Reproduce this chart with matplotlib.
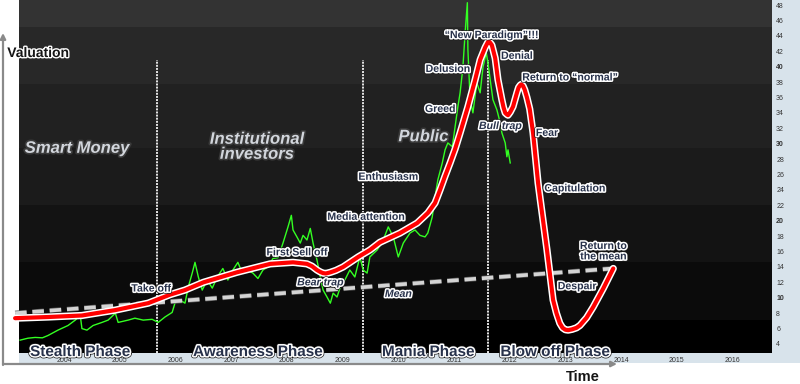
import matplotlib
matplotlib.use("Agg")
import matplotlib.pyplot as plt
import matplotlib.patheffects as pe
from matplotlib.patches import Rectangle

plt.rcParams["font.family"] = ["Liberation Sans", "DejaVu Sans"]

# ---- data (x in years, y in price units on the right-hand axis) -------------
price_x = [2003.21, 2003.35, 2003.48, 2003.61, 2003.71, 2003.89, 2004.07, 2004.2,
           2004.29, 2004.32, 2004.41, 2004.52, 2004.68, 2004.79, 2004.92, 2004.97,
           2005.15, 2005.27, 2005.42, 2005.58, 2005.69, 2005.81, 2005.94, 2005.99,
           2006.08, 2006.17, 2006.23, 2006.3, 2006.35, 2006.41, 2006.48, 2006.57,
           2006.66, 2006.75, 2006.85, 2006.94, 2007.03, 2007.12, 2007.2, 2007.29,
           2007.39, 2007.48, 2007.57, 2007.66, 2007.75, 2007.84, 2007.93, 2008.02,
           2008.08, 2008.11, 2008.18, 2008.24, 2008.29, 2008.36, 2008.42, 2008.47,
           2008.54, 2008.6, 2008.65, 2008.72, 2008.78, 2008.83, 2008.9, 2008.96,
           2009.04, 2009.13, 2009.22, 2009.31, 2009.37, 2009.44, 2009.49, 2009.62,
           2009.73, 2009.82, 2009.91, 2010.0, 2010.09, 2010.21, 2010.3, 2010.39,
           2010.48, 2010.53, 2010.61, 2010.66, 2010.71, 2010.79, 2010.84, 2010.89,
           2010.97, 2011.02, 2011.07, 2011.11, 2011.16, 2011.2, 2011.24, 2011.25,
           2011.29, 2011.34, 2011.41, 2011.47, 2011.52, 2011.58, 2011.61, 2011.65,
           2011.7, 2011.77, 2011.83, 2011.86, 2011.92, 2011.95, 2011.97, 2012.01]
price_y = [4.5, 4.75, 4.85, 4.8, 5.1, 5.8, 6.4, 7.1,
           7.7, 6.0, 5.8, 6.4, 6.8, 7.1, 8.0, 6.8,
           7.1, 7.35, 7.1, 7.2, 6.8, 7.5, 8.1, 9.3,
           9.7, 9.3, 11.4, 13.2, 14.6, 12.7, 11.0, 12.3,
           11.25, 12.7, 13.8, 12.3, 13.6, 14.6, 13.2, 13.6,
           13.2, 12.5, 13.6, 14.0, 15.1, 15.2, 17.1, 19.2,
           20.7, 18.8, 17.9, 17.1, 18.1, 17.5, 19.0, 17.1,
           14.9, 12.7, 11.0, 10.1, 9.3, 10.6, 10.1, 11.4,
           12.3, 13.6, 12.7, 15.3, 13.6, 13.2, 15.3, 16.2,
           17.5, 19.2, 17.9, 15.3, 17.1, 18.4, 18.8, 18.1,
           17.9, 18.4, 20.5, 23.1, 25.3, 27.5, 29.2, 30.1,
           29.6, 32.2, 34.8, 36.6, 39.9, 44.4, 48.3, 42.2,
           35.7, 34.0, 37.9, 36.6, 39.9, 41.8, 40.5, 38.3,
           35.7, 34.4, 32.7, 31.4, 30.1, 28.3, 29.2, 27.5]

cycle_x = [2003.12, 2003.71, 2004.32, 2004.92, 2005.51, 2005.9, 2006.17, 2006.5,
           2007.1, 2007.7, 2008.11, 2008.36, 2008.45, 2008.54, 2008.6, 2008.65,
           2008.7, 2008.78, 2008.88, 2009.01, 2009.28, 2009.49, 2009.67, 2010.03,
           2010.34, 2010.53, 2010.66, 2010.75, 2010.84, 2010.93, 2011.02, 2011.11,
           2011.25, 2011.38, 2011.47, 2011.56, 2011.61, 2011.64, 2011.68, 2011.74,
           2011.79, 2011.86, 2011.89, 2011.92, 2011.95, 2011.97, 2012.01, 2012.06,
           2012.13, 2012.16, 2012.19, 2012.21, 2012.24, 2012.27, 2012.31, 2012.36,
           2012.42, 2012.51, 2012.55, 2012.67, 2012.78, 2012.84, 2012.9, 2012.95,
           2013.0, 2013.05, 2013.12, 2013.2, 2013.26, 2013.38, 2013.5, 2013.68,
           2013.86]
cycle_y = [7.35, 7.5, 7.7, 8.4, 9.3, 10.4, 11.0, 12.0,
           13.3, 14.4, 14.6, 14.4, 14.1, 13.6, 13.35, 13.2,
           13.15, 13.3, 13.55, 14.0, 15.3, 16.2, 17.2, 18.4,
           19.7, 21.0, 22.3, 24.0, 25.8, 27.5, 29.3, 31.4,
           34.8, 38.3, 40.9, 42.5, 43.2, 43.2, 42.8, 41.1,
           38.3, 35.7, 34.7, 34.0, 33.8, 33.7, 34.1, 34.8,
           36.6, 37.3, 37.6, 37.7, 37.5, 37.0, 36.0, 34.5,
           31.4, 24.9, 22.7, 16.2, 9.7, 8.0, 6.7, 6.1,
           5.85, 5.8, 5.9, 6.1, 6.4, 7.4, 8.8, 11.2,
           13.8]

mean_x = [2003.12, 2013.86]
mean_y = [8.0, 13.8]

phase_bounds = [2005.67, 2009.37, 2011.61]
years = list(range(2004, 2017))
right_ticks = list(range(4, 49, 2))

band_edges = [2.83, 7.1, 14.6, 22.0, 29.4, 37.7, 45.1, 48.65]
band_colors = ["#000000", "#0b0b0b", "#131313", "#1b1b1b", "#212121", "#282828", "#333333"]

# (text, x, y, italic)
stage_labels = [
    ("Take off", 2005.56, 11.2, False),
    ("First Sell off", 2008.18, 15.9, False),
    ("Bear trap", 2008.6, 12.0, True),
    ("Media attention", 2009.42, 20.5, False),
    ("Mean", 2010.0, 10.5, True),
    ("Enthusiasm", 2009.82, 25.7, False),
    ("Greed", 2010.75, 34.5, False),
    ("Delusion", 2010.89, 39.7, False),
    ("\u201cNew Paradigm\u201d!!!", 2011.67, 44.1, False),
    ("Denial", 2012.13, 41.4, False),
    ("Bull trap", 2011.83, 32.3, True),
    ("Return to \u201cnormal\u201d", 2013.08, 38.6, False),
    ("Fear", 2012.67, 31.4, False),
    ("Capitulation", 2013.17, 24.2, False),
    ("Despair", 2013.21, 11.5, False),
    ("Return to\nthe mean", 2013.68, 16.05, False),
]
actor_labels = [
    ("Smart Money", 2004.23, 29.4),
    ("Institutional\ninvestors", 2007.46, 29.6),
    ("Public", 2010.45, 30.9),
]
phase_labels = [
    ("Stealth Phase", 2004.29),
    ("Awareness Phase", 2007.48),
    ("Mania Phase", 2010.54),
    ("Blow off Phase", 2012.82),
]

# ---- figure -----------------------------------------------------------------
fig = plt.figure(figsize=(8, 3.84), dpi=100)
W, H = 800, 384
strip = "#d8e3eb"
fig.add_artist(Rectangle((772 / W, 21 / H), 28 / W, 363 / H, transform=fig.transFigure,
                         facecolor=strip, edgecolor="none", zorder=-1))
fig.add_artist(Rectangle((19 / W, 21 / H), 753 / W, 10 / H, transform=fig.transFigure,
                         facecolor=strip, edgecolor="none", zorder=-1))

ax = fig.add_axes([19 / W, 31 / H, 753 / W, 353 / H])
ax.set_xlim(2003.19, 2016.71)
ax.set_ylim(band_edges[0], band_edges[-1])
for lo, hi, c in zip(band_edges[:-1], band_edges[1:], band_colors):
    ax.axhspan(lo, hi, color=c, lw=0, zorder=0)
for s in ax.spines.values():
    s.set_visible(False)

ax.yaxis.tick_right()
ax.set_yticks(right_ticks)
ax.set_yticklabels([str(t) for t in right_ticks])
for t, lab in zip(right_ticks, ax.get_yticklabels()):
    if t % 10 == 0:
        lab.set_fontweight("bold")
ax.tick_params(axis="y", length=0, pad=3, labelsize=5, labelcolor="#333333")
ax.set_xticks(years)
ax.set_xticklabels([str(y) for y in years])
ax.tick_params(axis="x", length=0, pad=3, labelsize=5, labelcolor="#333333")

ax.vlines(phase_bounds, 2.83, 40.9, colors="#e6e6e6", lw=1.4,
          linestyles=(0, (1, 0.6)), zorder=2)

ax.plot(price_x, price_y, color="#33ff22", lw=1.0, zorder=3)

ax.plot(mean_x, mean_y, color="#d4d4d4", lw=2.6, dashes=(3.2, 1.6), zorder=4,
        clip_on=False,
        path_effects=[pe.Stroke(linewidth=3.6, foreground="#555555"), pe.Normal()])

ax.plot(cycle_x, cycle_y, color="white", lw=5.2, zorder=5, clip_on=False,
        solid_capstyle="round", solid_joinstyle="round")
ax.plot(cycle_x, cycle_y, color="#ff0000", lw=3.0, zorder=6, clip_on=False,
        solid_capstyle="round", solid_joinstyle="round")

label_fx = [pe.Stroke(linewidth=3.2, foreground="#1a1a1a"),
            pe.Stroke(linewidth=2.2, foreground="white"), pe.Normal()]
for txt, x, y, it in stage_labels:
    ax.text(x, y, txt, ha="center", va="center", fontsize=7.6, fontweight="bold",
            style="italic" if it else "normal", color="#27314a", zorder=8,
            linespacing=1.05, path_effects=label_fx)

actor_fx = [pe.Stroke(linewidth=2.4, foreground="#3a3a3a"), pe.Normal()]
for txt, x, y in actor_labels:
    ax.text(x, y, txt, ha="center", va="center", fontsize=12, fontweight="bold",
            style="italic", color="#d2d6dc", zorder=8, linespacing=1.0,
            path_effects=actor_fx)

for txt, x in phase_labels:
    ax.text(x, 2.95, txt, ha="center", va="center", fontsize=11, fontweight="bold",
            color="#27314a", zorder=9, clip_on=False, path_effects=label_fx)

# axis arrows and titles outside the chart
fig.add_artist(plt.Annotation("", xy=(3, 351), xytext=(3, 19), xycoords="figure pixels",
                              textcoords="figure pixels",
                              arrowprops=dict(arrowstyle="-|>", color="#8a8a8a", lw=1.6,
                                              mutation_scale=8, shrinkA=0, shrinkB=0)))
fig.add_artist(plt.Annotation("", xy=(617, 20), xytext=(3, 20), xycoords="figure pixels",
                              textcoords="figure pixels",
                              arrowprops=dict(arrowstyle="-|>", color="#8a8a8a", lw=1.6,
                                              mutation_scale=8, shrinkA=0, shrinkB=0)))
fig.text(38 / W, 331 / H, "Valuation", ha="center", va="center", fontsize=10,
         fontweight="bold", color="#151515",
         path_effects=[pe.Stroke(linewidth=2, foreground="white"), pe.Normal()])
fig.text(583 / W, 7 / H, "Time", ha="center", va="center", fontsize=10.5,
         fontweight="bold", color="#151515")

fig.savefig("out.png", dpi=100)
